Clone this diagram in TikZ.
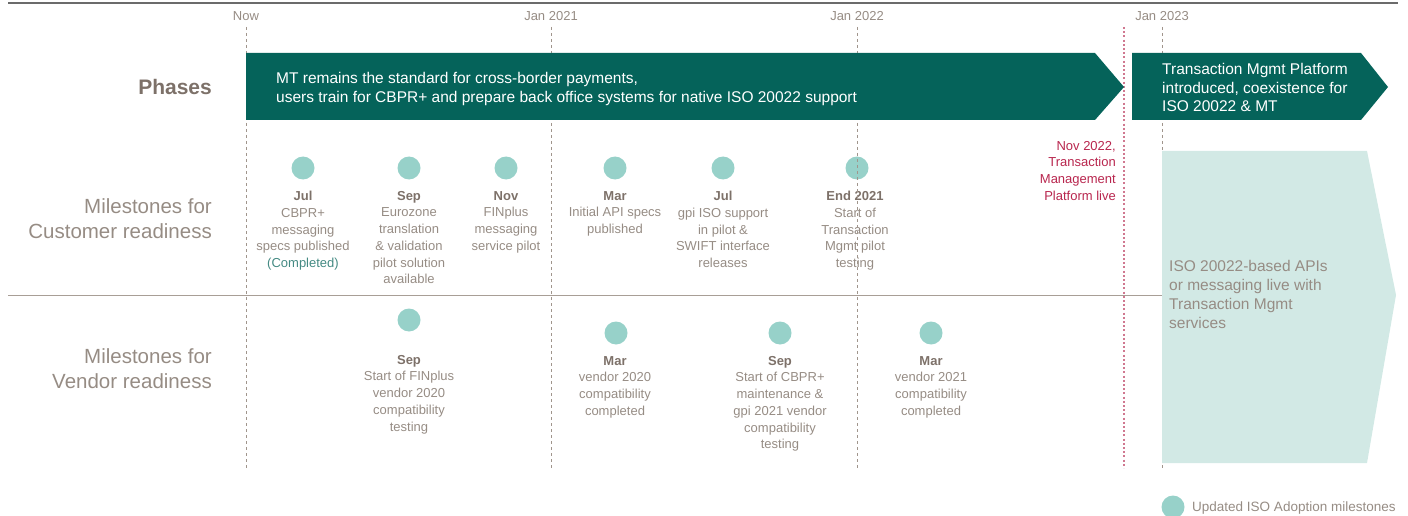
\documentclass[tikz,border=0pt]{standalone}
\usepackage{fontspec}
\setmainfont{Liberation Sans}
\definecolor{darkteal}{HTML}{05635A}
\definecolor{dotc}{HTML}{97D1C9}
\definecolor{panelc}{HTML}{D2E9E5}
\definecolor{txtgray}{HTML}{968C84}
\definecolor{boldgray}{HTML}{7D7169}
\definecolor{redtxt}{HTML}{B8264E}
\definecolor{reddot}{HTML}{D07890}
\definecolor{dashc}{HTML}{A0958C}
\definecolor{sepc}{HTML}{A89E96}
\definecolor{topc}{HTML}{6B6B6B}
\begin{document}
\begin{tikzpicture}[x=1pt,y=-1pt,
  ms/.style={font=\fontsize{13}{16.7}\selectfont, text=txtgray, align=center, inner sep=0, anchor=north},
  mdot/.style={circle, fill=dotc, minimum size=23, inner sep=0},
  tick/.style={font=\fontsize{13}{16}\selectfont, text=txtgray, inner sep=0, anchor=base},
  vline/.style={draw=dashc, line width=0.8, dash pattern=on 3pt off 3pt},
  rline/.style={draw=reddot, line width=1.8, dash pattern=on 2pt off 2.2pt},
  rowlbl/.style={font=\fontsize{20.5}{25}\selectfont, text=txtgray, align=right, inner sep=0, anchor=north east},
  phasetxt/.style={font=\fontsize{15.5}{19}\selectfont, text=white, align=left, inner sep=0, anchor=north west}
]
\useasboundingbox (0,0) rectangle (1408,516);
% top rule
\draw[topc, line width=1.6] (8,3) -- (1398,3);
% separator
\draw[sepc, line width=1] (8,295) -- (1170,295);
% row labels
\node[font=\fontsize{21}{24}\selectfont\bfseries, text=boldgray, inner sep=0, anchor=base east] (phases) at (212,94.5) {Phases};
\node[rowlbl] (cust) at (212,198.5) {Milestones for\\Customer readiness};
\node[rowlbl] (vend) at (212,348.5) {Milestones for\\Vendor readiness};
% customer milestones
\node[mdot] (c1) at (303,168) {};
\node[ms] (c1t) at (303,191) {{\bfseries\color{boldgray}Jul}\\CBPR+\\messaging\\specs published\\{\color{darkteal!75}(Completed)}};
\node[mdot] (c2) at (409,168) {};
\node[ms] (c2t) at (409,191) {{\bfseries\color{boldgray}Sep}\\Eurozone\\translation\\\& validation\\pilot solution\\available};
\node[mdot] (c3) at (506,168) {};
\node[ms] (c3t) at (506,191) {{\bfseries\color{boldgray}Nov}\\FINplus\\messaging\\service pilot};
\node[mdot] (c4) at (615,168) {};
\node[ms] (c4t) at (615,191) {{\bfseries\color{boldgray}Mar}\\Initial API specs\\published};
\node[mdot] (c5) at (723,168) {};
\node[ms] (c5t) at (723,191) {{\bfseries\color{boldgray}Jul}\\gpi ISO support\\in pilot \&\\SWIFT interface\\releases};
\node[mdot] (c6) at (857,168) {};
\node[ms] (c6t) at (855,191) {{\bfseries\color{boldgray}End 2021}\\Start of\\Transaction\\Mgmt pilot\\testing};
% vendor milestones
\node[mdot] (v1) at (409,320) {};
\node[ms] (v1t) at (409,355) {{\bfseries\color{boldgray}Sep}\\Start of FINplus\\vendor 2020\\compatibility\\testing};
\node[mdot] (v2) at (616,333) {};
\node[ms] (v2t) at (615,356) {{\bfseries\color{boldgray}Mar}\\vendor 2020\\compatibility\\completed};
\node[mdot] (v3) at (780,333) {};
\node[ms] (v3t) at (780,356) {{\bfseries\color{boldgray}Sep}\\Start of CBPR+\\maintenance \&\\gpi 2021 vendor\\compatibility\\testing};
\node[mdot] (v4) at (931,333) {};
\node[ms] (v4t) at (931,356) {{\bfseries\color{boldgray}Mar}\\vendor 2021\\compatibility\\completed};
% time ticks
\node[tick] (now) at (246,20.5) {Now};
\node[tick] (j21) at (551,20.5) {Jan 2021};
\node[tick] (j22) at (857,20.5) {Jan 2022};
\node[tick] (j23) at (1162,20.5) {Jan 2023};
\coordinate (nowb) at (246,468);
\coordinate (j21b) at (551,468);
\coordinate (j22b) at (857,468);
\coordinate (j23b) at (1162,468);
\draw[vline] (246,27) -- (nowb);
\draw[vline] (551,27) -- (j21b);
\draw[vline] (857,27) -- (j22b);
\draw[vline] (1162,27) -- (j23b);
% Nov 2022 red line
\coordinate (rtop) at (1124,27);
\coordinate (rbot) at (1124,468);
\draw[rline] (rtop) -- (rbot);
\node[font=\fontsize{13}{16.7}\selectfont, text=redtxt, align=right, inner sep=0, anchor=north east] (nov22) at (1116,141) {Nov 2022,\\Transaction\\Management\\Platform live};
% phases
\fill[darkteal] (246,53) -- (1095,53) -- (1124,87) -- (1095,120) -- (246,120) -- cycle;
\node[phasetxt] (p1) at (276,72.2) {MT remains the standard for cross-border payments,\\users train for CBPR+ and prepare back office systems for native ISO 20022 support};
\fill[darkteal] (1132,53) -- (1361,53) -- (1388,87) -- (1361,120) -- (1132,120) -- cycle;
\node[phasetxt, font=\fontsize{15.5}{18.5}\selectfont] (p2) at (1162,63.2) {Transaction Mgmt Platform\\introduced, coexistence for\\ISO 20022 \& MT};
% panel
\fill[panelc] (1162,151) -- (1367,151) -- (1396,295) -- (1367,463) -- (1162,463) -- cycle;
\node[font=\fontsize{15.5}{19}\selectfont, text=txtgray, align=left, inner sep=0, anchor=north west] (panel) at (1169,260.2) {ISO 20022-based APIs\\or messaging live with\\Transaction Mgmt\\services};
% legend
\node[mdot] (leg) at (1173,507) {};
\node[font=\fontsize{13.5}{16}\selectfont, text=txtgray, inner sep=0, anchor=base west] (legt) at (1192,511.7) {Updated ISO Adoption milestones};
\end{tikzpicture}
\end{document}
